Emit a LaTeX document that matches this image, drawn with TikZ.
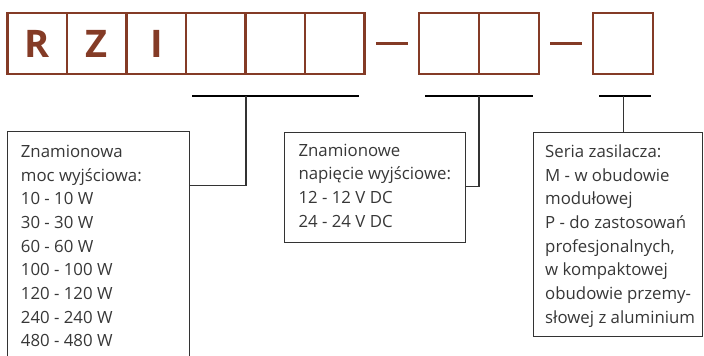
\documentclass[tikz,border=0pt]{standalone}
\usepackage{fontspec}
\setmainfont{Open Sans}
\definecolor{rust}{RGB}{132,59,38}
\definecolor{txtgray}{RGB}{55,55,55}
\begin{document}
\begin{tikzpicture}[x=1pt,y=-1pt,
  cell/.style={draw=rust, line width=2.7pt, minimum width=59.5pt, minimum height=61pt, inner sep=0pt, text=rust, font=\fontsize{38}{40}\selectfont\bfseries},
  dashline/.style={draw=rust, line width=3pt, shorten <=10pt, shorten >=10pt},
  bracket/.style={draw=black, line width=2pt},
  leader/.style={draw=black!80, line width=1.1pt},
  infobox/.style={draw=black!80, line width=1pt, inner sep=0pt},
  txt/.style={anchor=base west, align=left, inner sep=0pt, text=txtgray, font=\fontsize{16.8}{23.7}\selectfont}]
\useasboundingbox (0,0) rectangle (704,356);
\clip (0,0) rectangle (704,356);
% top cells
\node[cell] (c1) at (37.3,43.5) {R};
\node[cell] (c2) at (96.8,43.5) {Z};
\node[cell] (c3) at (156.3,43.5) {I};
\node[cell] (c4) at (215.8,43.5) {};
\node[cell] (c5) at (275.3,43.5) {};
\node[cell] (c6) at (334.8,43.5) {};
\node[cell, minimum width=60pt] (c7) at (449,43.5) {};
\node[cell, minimum width=60pt] (c8) at (509,43.5) {};
\node[cell, minimum width=60pt] (c9) at (623,43.5) {};
\draw[dashline] (c6.east) -- (c7.west);
\draw[dashline] (c8.east) -- (c9.west);
% brackets
\coordinate (b1l) at (192,95.5);
\coordinate (b1r) at (359,95.5);
\coordinate (b1m) at (246,95.5);
\coordinate (b2l) at (425,95.5);
\coordinate (b2r) at (533,95.5);
\coordinate (b2m) at (479,95.5);
\coordinate (b3l) at (599,95.5);
\coordinate (b3r) at (651,95.5);
\coordinate (b3m) at (623.3,95.5);
\draw[bracket] (b1l) -- (b1r);
\draw[bracket] (b2l) -- (b2r);
\draw[bracket] (b3l) -- (b3r);
% info boxes
\node[infobox, anchor=north west, minimum width=181.7pt, minimum height=240pt] (box1) at (7.3,131) {};
\node[infobox, anchor=north west, minimum width=181pt, minimum height=110.5pt] (box2) at (284,131.7) {};
\node[infobox, anchor=north west, minimum width=169.3pt, minimum height=204.5pt] (box3) at (532.7,131.7) {};
% leaders
\draw[leader] (b1m) |- (box1.east |- 0,185.7);
\draw[leader] (b2m) |- (box2.east |- 0,186.7);
\draw[leader] (b3m) -- (b3m |- box3.north);
% texts (anchored at the baseline of their last line)
\node[txt] (t1) at (20.7,346.9) {Znamionowa\\moc wyjściowa:\\10 - 10 W\\30 - 30 W\\60 - 60 W\\100 - 100 W\\120 - 120 W\\240 - 240 W\\480 - 480 W};
\node[txt] (t2) at (298.3,227.1) {Znamionowe\\napięcie wyjściowe:\\12 - 12 V DC\\24 - 24 V DC};
\node[txt] (t3) at (545,323.2) {Seria zasilacza:\\M - w obudowie\\modułowej\\P - do zastosowań\\profesjonalnych,\\w kompaktowej\\obudowie przemy-\\słowej z aluminium};
\end{tikzpicture}
\end{document}
